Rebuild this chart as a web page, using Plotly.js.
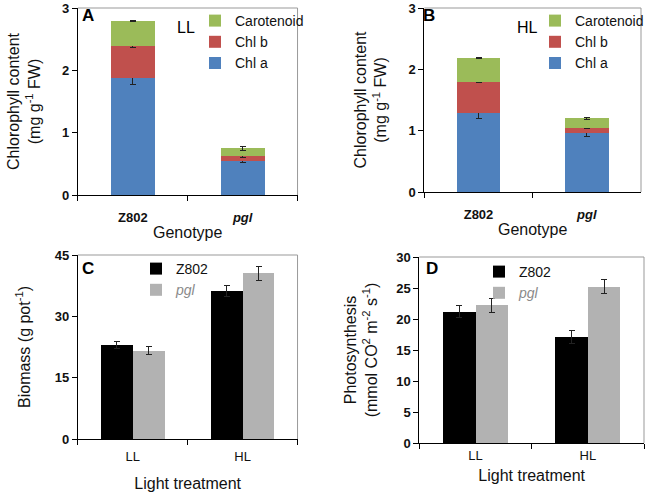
<!DOCTYPE html>
<html><head><meta charset="utf-8">
<script src="https://cdn.plot.ly/plotly-3.0.1.min.js"></script>
<style>html,body{margin:0;padding:0;background:#fff}#chart{width:649px;height:492px}</style>
</head><body><div id="chart"></div>
<script>
// ---- data ----
const genotypes = ['Z802', '<i>pgl</i>'];
const treatments = ['LL', 'HL'];
// Panel A (LL) chlorophyll
const A_chla = [1.87, 0.55];
const A_chla_err = [0.10, 0.03];
const A_chlb = [0.52, 0.08];
const A_chlb_err = [0.03, 0.03];
const A_car = [0.40, 0.12];
const A_car_err = [0.01, 0.03];
// Panel B (HL) chlorophyll
const B_chla = [1.29, 0.96];
const B_chla_err = [0.09, 0.05];
const B_chlb = [0.51, 0.09];
const B_chlb_err = [0.01, 0.02];
const B_car = [0.38, 0.15];
const B_car_err = [0.01, 0.01];
// Panel C biomass
const C_z802 = [23.0, 36.2];
const C_z802_err = [0.8, 1.3];
const C_pgl = [21.6, 40.5];
const C_pgl_err = [1.0, 1.7];
// Panel D photosynthesis
const D_z802 = [21.2, 17.1];
const D_z802_err = [1.0, 1.1];
const D_pgl = [22.2, 25.2];
const D_pgl_err = [1.1, 1.1];
const seriesNames = ['Chl a', 'Chl b', 'Carotenoid'];

// ---- styles ----
const W = 649, H = 492;
const colA = '#4F81BD', colB = '#C0504D', colC = '#9BBB59';
const black = '#000000', gray = '#B2B2B2';
const FONT = 'Liberation Sans, Arial, sans-serif';
const px = v => v / W;
const py = v => 1 - v / H;

function err(arr) {
  return {type: 'data', array: arr, visible: true, color: '#222', thickness: 1, width: 3};
}
function stackTraces(xa, ya, leg, vals, errs) {
  const cols = [colA, colB, colC];
  return vals.map((v, i) => ({
    type: 'bar', x: genotypes, y: v, name: seriesNames[i], xaxis: xa, yaxis: ya,
    marker: {color: cols[i]}, width: 0.4, error_y: err(errs[i]),
    legend: leg, legendgroup: leg + i, offsetgroup: 'st'
  }));
}
const data = [
  ...stackTraces('x', 'y', 'legend', [A_chla, A_chlb, A_car], [A_chla_err, A_chlb_err, A_car_err]),
  ...stackTraces('x2', 'y2', 'legend2', [B_chla, B_chlb, B_car], [B_chla_err, B_chlb_err, B_car_err]),
  {type: 'bar', x: treatments, y: C_z802, name: 'Z802', xaxis: 'x3', yaxis: 'y3', marker: {color: black},
   error_y: err(C_z802_err), legend: 'legend3', legendgroup: 'c1', offsetgroup: 'g1'},
  {type: 'bar', x: treatments, y: C_pgl, name: '<i><span style="color:#8a8a8a">pgl</span></i>', xaxis: 'x3', yaxis: 'y3', marker: {color: gray},
   error_y: err(C_pgl_err), legend: 'legend3', legendgroup: 'c2', offsetgroup: 'g2'},
  {type: 'bar', x: treatments, y: D_z802, name: 'Z802', xaxis: 'x4', yaxis: 'y4', marker: {color: black},
   error_y: err(D_z802_err), legend: 'legend4', legendgroup: 'd1', offsetgroup: 'g1'},
  {type: 'bar', x: treatments, y: D_pgl, name: '<i><span style="color:#8a8a8a">pgl</span></i>', xaxis: 'x4', yaxis: 'y4', marker: {color: gray},
   error_y: err(D_pgl_err), legend: 'legend4', legendgroup: 'd2', offsetgroup: 'g2'}
];

function xax(domain, anchor, title, labelStandoff, standoff, bold) {
  return {domain: domain, anchor: anchor, type: 'category', showline: true, linecolor: '#000', linewidth: 1,
    ticks: 'outside', ticklen: 5, tickcolor: '#000', tickson: 'boundaries', showgrid: false, zeroline: false,
    ticklabelstandoff: labelStandoff,
    tickfont: {family: FONT, size: 13, color: '#111', weight: bold ? 'bold' : 'normal'},
    title: {text: title, font: {family: FONT, size: 16, color: '#111'}, standoff: standoff}, fixedrange: true};
}
function yax(domain, anchor, title, range, dtick, standoff) {
  return {domain: domain, anchor: anchor, range: range, dtick: dtick, tick0: 0, showline: true, linecolor: '#000', linewidth: 1,
    ticks: 'outside', ticklen: 5, tickcolor: '#000', showgrid: false, zeroline: false,
    tickfont: {family: FONT, size: 13, color: '#111', weight: 'bold'},
    title: {text: title, font: {family: FONT, size: 16, color: '#111'}, standoff: standoff}, fixedrange: true};
}
function legend(x, y) {
  return {x: px(x), y: py(y), xanchor: 'left', yanchor: 'top', bgcolor: 'rgba(0,0,0,0)', borderwidth: 0,
    font: {family: FONT, size: 14, color: '#111'}, tracegroupgap: 3, itemwidth: 30, traceorder: 'reversed'};
}
function frame(xr, yr) {
  return [
    {type: 'line', xref: xr + ' domain', yref: yr + ' domain', x0: 0, x1: 1, y0: 1, y1: 1, line: {color: '#999', width: 1}},
    {type: 'line', xref: xr + ' domain', yref: yr + ' domain', x0: 1, x1: 1, y0: 0, y1: 1, line: {color: '#999', width: 1}}
  ];
}
function ann(text, x, y, size, bold) {
  return {text: bold ? '<b>' + text + '</b>' : text, x: px(x), y: py(y), xref: 'paper', yref: 'paper', showarrow: false,
    xanchor: 'center', yanchor: 'middle', font: {family: FONT, size: size, color: '#000'}};
}

const layout = {
  width: W, height: H, margin: {l: 0, r: 0, t: 0, b: 0}, paper_bgcolor: '#fff', plot_bgcolor: '#fff',
  barmode: 'stack', bargap: 0.42, bargroupgap: 0, showlegend: true,
  xaxis: xax([px(78), px(298)], 'y', 'Genotype', 10, 3, true),
  yaxis: yax([py(195), py(8)], 'x', 'Chlorophyll content<br>(mg g<sup>-1</sup> FW)', [0, 3], 1, 17),
  xaxis2: xax([px(425), px(642)], 'y2', 'Genotype', 10, 3, true),
  yaxis2: yax([py(192), py(8)], 'x2', 'Chlorophyll content<br>(mg g<sup>-1</sup> FW)', [0, 3], 1, 17),
  xaxis3: xax([px(78), px(298)], 'y3', 'Light treatment', 5, 17, false),
  yaxis3: yax([py(439), py(255)], 'x3', 'Biomass (g pot<sup>-1</sup>)', [0, 45], 15, 20),
  xaxis4: xax([px(420), px(645)], 'y4', 'Light treatment', 0, 8, false),
  yaxis4: yax([py(443), py(257)], 'x4', 'Photosynthesis<br>(mmol CO<sup>2</sup> m<sup>-2</sup> s<sup>-1</sup>)', [0, 30], 5, 14),
  legend: legend(195, 5),
  legend2: legend(536, 5),
  legend3: Object.assign(legend(136, 253), {traceorder: 'normal'}),
  legend4: Object.assign(legend(479, 256), {traceorder: 'normal'}),
  shapes: [...frame('x', 'y'), ...frame('x2', 'y2'), ...frame('x3', 'y3'), ...frame('x4', 'y4')],
  annotations: [
    ann('A', 88, 15, 17, true), ann('LL', 186, 28, 16, false),
    ann('B', 430, 15, 17, true), ann('HL', 528, 28, 16, false),
    ann('C', 88, 268, 17, true), ann('D', 433, 268, 17, true)
  ]
};
Plotly.newPlot('chart', data, layout, {staticPlot: true, displayModeBar: false});
</script></body></html>
